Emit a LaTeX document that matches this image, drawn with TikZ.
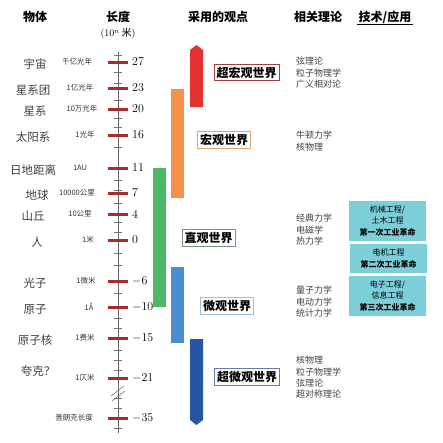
\documentclass[tikz,border=0pt]{standalone}
\usepackage{fontspec}
\newfontfamily\cjk{Noto Sans CJK SC}
\definecolor{cred}{RGB}{228,50,46}
\definecolor{corange}{RGB}{244,146,74}
\definecolor{cgreen}{RGB}{76,184,106}
\definecolor{clblue}{RGB}{72,142,208}
\definecolor{cdblue}{RGB}{40,84,164}
\definecolor{b1}{RGB}{160,64,64}
\definecolor{b2}{RGB}{216,168,120}
\definecolor{b3}{RGB}{122,150,122}
\definecolor{b4}{RGB}{154,192,224}
\definecolor{b5}{RGB}{106,122,160}
\definecolor{ctech}{RGB}{124,207,216}
\definecolor{ctick}{RGB}{168,44,44}
\begin{document}
\begin{tikzpicture}[x=1pt,y=-1pt,
  hdr/.style={font=\cjk\bfseries\fontsize{12}{14}\selectfont, inner sep=1pt},
  obj/.style={font=\cjk\fontsize{11.5}{13}\selectfont, text=black!75, inner sep=1pt},
  unit/.style={font=\cjk\fontsize{7.5}{9}\selectfont, text=black!80, inner sep=1pt},
  num/.style={font=\fontsize{12}{14}\selectfont, anchor=west, inner sep=1pt},
  major/.style={draw=ctick, line width=3pt},
  minor/.style={draw=black!55, line width=0.5pt},
  world/.style={draw, line width=0.7pt, font=\cjk\bfseries\fontsize{12}{14}\selectfont, inner xsep=2.5pt, inner ysep=2.5pt, fill=white},
  theory/.style={font=\cjk\fontsize{9}{11.3}\selectfont, text=black!75, anchor=north west, align=left, inner sep=0pt},
  tech/.style={fill=ctech, font=\cjk\fontsize{8}{11.5}\selectfont, align=center, inner sep=0pt, minimum width=77pt}
]
\useasboundingbox (0,0) rectangle (443,442);
% headers
\node[hdr] (h1) at (35,17) {物体};
\node[hdr] (h2) at (118,17) {长度};
\node[font=\fontsize{10}{12}\selectfont] (h2b) at (118,34) {(10$^n$\,{\cjk 米})};
\node[hdr] (h3) at (218,17) {采用的观点};
\node[hdr] (h4) at (318,17) {相关理论};
\node[hdr] (h5) at (385,17) {技术/应用};
\draw[line width=0.6pt] (h5.south west) -- (h5.south east);
% axis
\coordinate (atop) at (118,52);
\coordinate (abot) at (118,433);
\draw[black!60, line width=0.6pt] (atop) -- (abot);
\foreach \y in {55,72,83,100,118,127,147,180,190,203,222,232,253,265,293,318,328,350,360,370,398,408,428}
  \draw[minor] (114,\y) -- (122,\y);
\draw[black!60, line width=0.5pt] (111,396) -- (124,386) (112,401) -- (125,391);
% major ticks
\foreach \y/\n/\o/\ox/\u/\ux in {
  62/27/宇宙/35/千亿光年/77,
  88/23/星系团/33/1亿光年/80,
  109/20/星系/35/10万光年/82,
  135/16/太阳系/33/1光年/85,
  168/11/日地距离/33/1AU/80,
  193/7/地球/37/10000公里/77,
  214/4/山丘/33/10公里/80,
  240/0/人/37/1米/88,
  281/$-$6/光子/35/1微米/86,
  307/$-$10/原子/35/1Å/89,
  338/$-$15/原子核/35/1费米/85,
  378/$-$21//0/1仄米/85,
  418/$-$35//0/普朗克长度/74}
{
  \draw[major] (108,\y) -- (128,\y);
  \node[num] at (131,\y) {\n};
  \node[unit] at (\ux,\y) {\u};
  \node[obj] at (\ox,\y+2) {\o};
}
\node[obj] (quark) at (38,371) {夸克？};
% bars
\fill[cred] (190,107) -- (190,50) -- (196.5,45) -- (203,50) -- (203,107) -- cycle;
\fill[corange] (171,89) rectangle (184,198);
\fill[cgreen] (153,168) rectangle (166,307);
\fill[clblue] (171,267) rectangle (184,343);
\fill[cdblue] (190,339) -- (203,339) -- (203,420) -- (196.5,425) -- (190,420) -- cycle;
% world labels
\node[world, draw=b1] (w1) at (246.5,72.5) {超宏观世界};
\node[world, draw=b2] (w2) at (224,140) {宏观世界};
\node[world, draw=b3] (w3) at (208.5,238) {直观世界};
\node[world, draw=b4] (w4) at (227,306) {微观世界};
\node[world, draw=b5] (w5) at (247,377) {超微观世界};
% theories
\node[theory] (t1) at (296,57) {弦理论\\粒子物理学\\广义相对论};
\node[theory] (t2) at (296,131) {牛顿力学\\核物理};
\node[theory] (t3) at (296,214) {经典力学\\电磁学\\热力学};
\node[theory] (t4) at (296,286) {量子力学\\电动力学\\统计力学};
\node[theory] (t5) at (296,356) {核物理\\粒子物理学\\弦理论\\超对称理论};
% technology
\node[tech, minimum height=40pt] (k1) at (387.5,221) {机械工程/\\土木工程\\\textbf{第一次工业革命}};
\node[tech, minimum height=29pt] (k2) at (388.5,258.5) {电机工程\\\textbf{第二次工业革命}};
\node[tech, minimum height=40pt] (k3) at (387.5,296) {电子工程/\\信息工程\\\textbf{第三次工业革命}};
\end{tikzpicture}
\end{document}
